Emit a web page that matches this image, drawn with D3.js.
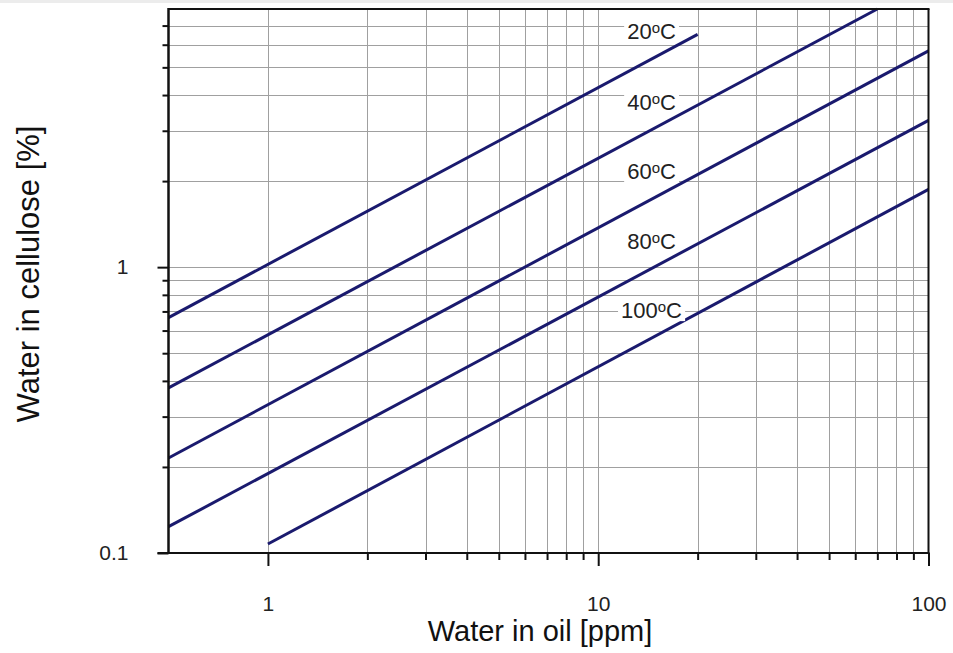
<!DOCTYPE html>
<html>
<head>
<meta charset="utf-8">
<script src="https://cdn.jsdelivr.net/npm/d3@7"></script>
<style>
  body { margin: 0; background: #fff; }
  svg { display: block; font-family: "Liberation Sans", Arial, sans-serif; }
</style>
</head>
<body>
<div id="chart"></div>
<script>
// curve endpoints (water in oil ppm, water in cellulose %)
const temps = ["20", "40", "60", "80", "100"];
const oilStart = [0.5, 0.5, 0.5, 0.5, 1];
const oilEnd = [20, 70, 100, 100, 100];
const celStart = [0.666, 0.378, 0.215, 0.1236, 0.1075];
const celEnd = [6.52, 8.0, 5.71, 3.26, 1.87];

const xMajor = [1, 10, 100];
const xMinor = [2, 3, 4, 5, 6, 7, 8, 9, 20, 30, 40, 50, 60, 70, 80, 90];
const yMajor = [0.1, 1];
const yMinor = [0.2, 0.3, 0.4, 0.5, 0.6, 0.7, 0.8, 0.9, 2, 3, 4, 5, 6, 7];
const labelAtOil = 14.5;

const width = 953, height = 653;
const margin = {top: 9, right: 24.5, bottom: 100, left: 168.5};

const svg = d3.select("#chart").append("svg")
    .attr("width", width)
    .attr("height", height);

svg.append("rect")
    .attr("x", 0).attr("y", 0)
    .attr("width", width).attr("height", 3)
    .attr("fill", "#ececec");

const x = d3.scaleLog().domain([0.5, 100]).range([margin.left, width - margin.right]);
const y = d3.scaleLog().domain([0.1, 8]).range([height - margin.bottom, margin.top]);

const x0 = x.range()[0], x1 = x.range()[1];
const yb = y.range()[0], yt = y.range()[1];

// grid
const grid = svg.append("g").attr("stroke", "#a0a0a0").attr("stroke-width", 1);
grid.selectAll(".vg")
    .data(xMajor.concat(xMinor).filter(d => d < 100))
    .enter().append("line")
    .attr("x1", d => Math.round(x(d)) + 0.5).attr("x2", d => Math.round(x(d)) + 0.5)
    .attr("y1", yt).attr("y2", yb);
grid.selectAll(".hg")
    .data(yMajor.concat(yMinor).filter(d => d > 0.1))
    .enter().append("line")
    .attr("y1", d => Math.round(y(d)) + 0.5).attr("y2", d => Math.round(y(d)) + 0.5)
    .attr("x1", x0).attr("x2", x1);

// curves
const series = temps.map((t, i) => ({
    temp: t,
    pts: [[oilStart[i], celStart[i]], [oilEnd[i], celEnd[i]]]
}));

const line = d3.line().x(d => x(d[0])).y(d => y(d[1]));

svg.append("g").selectAll("path")
    .data(series)
    .enter().append("path")
    .attr("d", d => line(d.pts))
    .attr("fill", "none")
    .attr("stroke", "#1a1a6e")
    .attr("stroke-width", 3);

// axes
const xAxis = svg.append("g")
    .attr("transform", "translate(0," + yb + ")")
    .call(d3.axisBottom(x).tickValues(xMajor).tickSize(13).tickPadding(30).tickFormat(d3.format("~g")));
const xAxisMinor = svg.append("g")
    .attr("transform", "translate(0," + yb + ")")
    .call(d3.axisBottom(x).tickValues(xMinor).tickSize(7).tickFormat(""));
const yAxis = svg.append("g")
    .attr("transform", "translate(" + x0 + ",0)")
    .call(d3.axisLeft(y).tickValues(yMajor).tickSize(11).tickPadding(29).tickFormat(d3.format("~g")));
const yAxisMinor = svg.append("g")
    .attr("transform", "translate(" + x0 + ",0)")
    .call(d3.axisLeft(y).tickValues(yMinor).tickSize(6).tickFormat(""));

[xAxis, xAxisMinor, yAxis, yAxisMinor].forEach(a => {
    a.select(".domain").remove();
    a.selectAll(".tick line").attr("stroke", "#111").attr("stroke-width", 2);
    a.selectAll(".tick text")
        .attr("fill", "#222")
        .style("font-size", "21px")
        .style("font-family", "'Liberation Sans', Arial, sans-serif");
});

// frame
const frame = svg.append("g").attr("stroke", "#111").attr("fill", "none");
frame.append("line").attr("x1", x0).attr("x2", x1 + 1).attr("y1", yt).attr("y2", yt).attr("stroke-width", 2);
frame.append("line").attr("x1", x1).attr("x2", x1).attr("y1", yt).attr("y2", yb).attr("stroke-width", 2);
frame.append("line").attr("x1", x0 - 11).attr("x2", x1 + 1).attr("y1", yb).attr("y2", yb).attr("stroke-width", 2);
frame.append("line").attr("x1", x0).attr("x2", x0).attr("y1", yt - 1).attr("y2", yb).attr("stroke-width", 2.5);

// curve labels, placed just above each line
const labels = svg.append("g");
series.forEach(s => {
    const a = s.pts[0], b = s.pts[1];
    const t = (Math.log(labelAtOil) - Math.log(a[0])) / (Math.log(b[0]) - Math.log(a[0]));
    const cel = Math.exp(Math.log(a[1]) + t * (Math.log(b[1]) - Math.log(a[1])));
    const lx = x(labelAtOil), ly = y(cel) - 20;
    const g = labels.append("g");
    const bg = g.append("rect").attr("fill", "#fff");
    const txt = g.append("text")
        .attr("x", lx).attr("y", ly)
        .attr("text-anchor", "middle")
        .attr("fill", "#222")
        .style("font-size", "22px");
    txt.append("tspan").text(s.temp);
    txt.append("tspan").attr("dy", -6).style("font-size", "15px").text("o");
    txt.append("tspan").attr("dy", 6).text("C");
    const bb = txt.node().getBBox();
    bg.attr("x", bb.x - 3).attr("y", ly - 18)
        .attr("width", bb.width + 6).attr("height", 21);
});

// axis titles
svg.append("text")
    .attr("x", 540).attr("y", 641)
    .attr("text-anchor", "middle")
    .attr("fill", "#111")
    .style("font-size", "29px")
    .text("Water in oil [ppm]");

svg.append("text")
    .attr("transform", "translate(39,274) rotate(-90)")
    .attr("text-anchor", "middle")
    .attr("fill", "#111")
    .style("font-size", "31px")
    .text("Water in cellulose [%]");
</script>
</body>
</html>
